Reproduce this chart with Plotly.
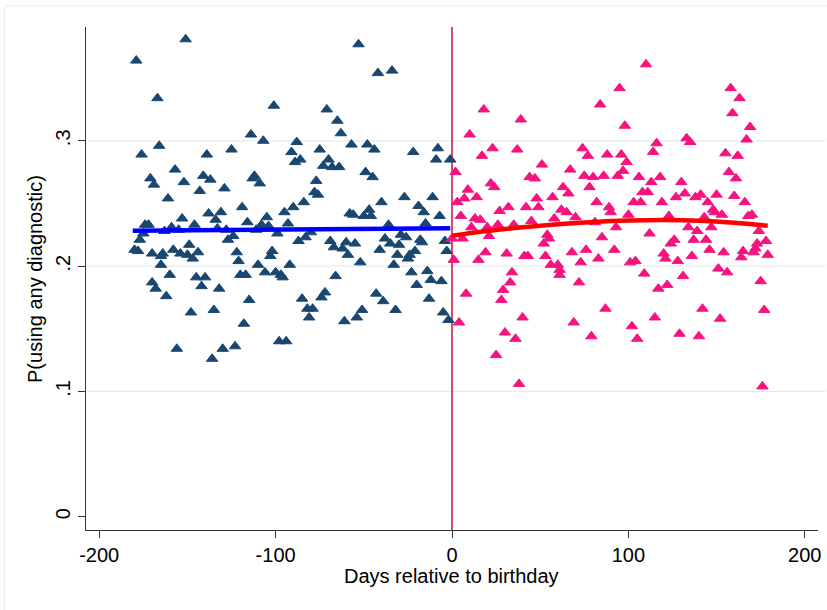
import plotly.graph_objects as go

# ---- data ----
left_days = [-151,-179,-167,-166,-176,-139,-125,-157,-171,-169,-152,-141,-137,-143,-129,-161,-138,-131,-134,-153,
             -174,-172,-159,-163,-155,-146,-175,-177,-133,-128,-127,-124,-180,-178,-170,-164,-158,-154,-149,-150,
             -147,-144,-165,-122,-165,-160,-170,-168,-162,-145,-140,-142,-132,-148,-135,-156,-136,-130,-123,-118,-119,
             -101,-71,-65,-63,-114,-107,-88,-57,-91,-75,-86,-89,-70,-73,-68,-64,-112,-113,-109,-77,
             -78,-76,-84,-90,-95,-105,-116,-93,-58,-56,-111,-108,-104,-99,-80,-87,-83,-121,-120,-117,
             -110,-106,-102,-103,-100,-97,-96,-92,-69,-67,-60,-62,-59,-55,-66,-115,-98,-94,-85,-82,
             -79,-81,-74,-72,-61,-54,-51,
             -53,-42,-34,-48,-44,-22,-8,-9,-1,-49,-45,-40,-27,-11,-19,-16,-7,-50,-47,-46,
             -15,-36,-29,-26,-38,-35,-30,-18,-17,-21,-24,-25,-41,-31,-33,-4,-3,-52,-23,-14,
             -20,-12,-6,-43,-39,-13,-32,-5,-2]
left_prob = [0.381,0.364,0.334,0.296,0.289,0.289,0.293,0.277,0.270,0.265,0.267,0.272,0.269,0.260,0.262,0.254,0.242,0.243,0.237,0.238,
             0.233,0.233,0.231,0.228,0.229,0.233,0.226,0.221,0.230,0.229,0.221,0.224,0.213,0.212,0.210,0.210,0.213,0.210,0.217,0.209,
             0.206,0.211,0.208,0.211,0.201,0.193,0.187,0.182,0.176,0.191,0.191,0.184,0.182,0.163,0.165,0.134,0.126,0.134,0.136,0.154,0.247,
             0.328,0.325,0.316,0.306,0.305,0.300,0.299,0.297,0.291,0.293,0.285,0.283,0.285,0.280,0.279,0.279,0.272,0.270,0.266,0.268,
             0.259,0.257,0.251,0.247,0.243,0.239,0.235,0.234,0.242,0.241,0.229,0.233,0.232,0.226,0.227,0.220,0.223,0.204,0.193,0.193,
             0.201,0.195,0.212,0.208,0.195,0.193,0.191,0.201,0.220,0.215,0.219,0.214,0.209,0.218,0.192,0.173,0.140,0.140,0.174,0.166,
             0.166,0.159,0.175,0.179,0.156,0.159,0.165,
             0.377,0.354,0.356,0.297,0.293,0.291,0.294,0.285,0.285,0.275,0.271,0.251,0.255,0.255,0.248,0.243,0.240,0.240,0.245,0.240,
             0.234,0.233,0.225,0.223,0.222,0.218,0.217,0.221,0.219,0.212,0.209,0.206,0.213,0.209,0.201,0.220,0.212,0.203,0.195,0.196,
             0.185,0.189,0.188,0.178,0.172,0.174,0.165,0.163,0.157]

right_days = [18,39,10,23,37,17,51,2,22,24,44,47,63,9,7,14,3,48,49,57,
              42,32,27,5,13,16,62,11,20,26,35,45,58,6,0,21,54,55,52,19,
              31,41,43,53,1,15,56,60,61,61,34,33,29,28,8,40,4,30,36,25,38,
              110,95,84,98,116,114,74,77,88,96,99,67,97,75,80,86,94,106,113,118,
              130,66,78,108,111,82,103,107,119,127,89,90,65,70,100,123,81,93,112,85,
              126,124,68,76,92,83,73,101,104,120,121,128,72,109,117,122,87,69,79,102,105,115,
              158,163,159,169,167,133,135,155,162,157,161,132,138,141,150,160,166,145,148,149,
              153,143,168,170,134,147,139,174,137,144,146,154,165,164,173,172,171,178,179,136,
              131,151,156,175,142,152,129,140,177,176]
right_prob = [0.325,0.317,0.305,0.294,0.293,0.288,0.281,0.275,0.266,0.263,0.271,0.270,0.263,0.261,0.254,0.255,0.251,0.254,0.247,0.255,
              0.247,0.247,0.244,0.240,0.238,0.237,0.245,0.231,0.231,0.233,0.233,0.236,0.238,0.222,0.222,0.224,0.225,0.222,0.218,0.211,
              0.210,0.208,0.208,0.208,0.205,0.205,0.201,0.201,0.197,0.193,0.195,0.187,0.181,0.173,0.178,0.159,0.155,0.147,0.142,0.129,0.106,
              0.361,0.342,0.329,0.312,0.298,0.291,0.294,0.288,0.289,0.289,0.283,0.277,0.276,0.272,0.271,0.272,0.272,0.271,0.267,0.271,
              0.267,0.258,0.263,0.259,0.259,0.251,0.251,0.251,0.251,0.255,0.247,0.243,0.243,0.239,0.241,0.240,0.235,0.231,0.226,0.223,
              0.221,0.218,0.211,0.213,0.213,0.206,0.203,0.203,0.204,0.210,0.206,0.204,0.187,0.194,0.182,0.185,0.166,0.155,0.144,0.152,0.142,0.159,
              0.342,0.334,0.322,0.311,0.301,0.302,0.299,0.290,0.288,0.275,0.270,0.258,0.255,0.257,0.257,0.256,0.251,0.251,0.245,0.243,
              0.241,0.239,0.240,0.241,0.231,0.231,0.228,0.228,0.221,0.221,0.213,0.211,0.212,0.207,0.218,0.214,0.211,0.220,0.209,0.208,
              0.192,0.198,0.195,0.188,0.166,0.158,0.146,0.144,0.165,0.104]

fit_left_days = [-181, -1]
fit_left_prob = [0.2282, 0.2302]
fit_right_days = [0, 20, 40, 60, 80, 100, 120, 140, 160, 179]
fit_right_prob = [0.2243, 0.2280, 0.2310, 0.2334, 0.2352, 0.2363, 0.2367, 0.2362, 0.2346, 0.2322]

x_ticks = [-200, -100, 0, 100, 200]
x_ticklabels = ["-200", "-100", "0", "100", "200"]
y_ticks = [0, 0.1, 0.2, 0.3]
y_ticklabels = ["0", ".1", ".2", ".3"]
grid_levels = [0.1, 0.2, 0.3]

x_title = "Days relative to birthday"
y_title = "P(using any diagnostic)"

NAVY = "#1a476f"
PINK = "#f7137f"
FONT = "Liberation Sans, Arial, Helvetica, sans-serif"

fig = go.Figure()

fig.add_trace(go.Scatter(x=left_days, y=left_prob, mode="markers",
                         marker=dict(symbol="triangle-up", size=10, color=NAVY,
                                     line=dict(color=NAVY, width=1)),
                         showlegend=False, hoverinfo="skip"))
fig.add_trace(go.Scatter(x=right_days, y=right_prob, mode="markers",
                         marker=dict(symbol="triangle-up", size=10, color=PINK,
                                     line=dict(color=PINK, width=1)),
                         showlegend=False, hoverinfo="skip"))
fig.add_trace(go.Scatter(x=fit_left_days, y=fit_left_prob, mode="lines",
                         line=dict(color="#0000ff", width=4.5),
                         showlegend=False, hoverinfo="skip"))
fig.add_trace(go.Scatter(x=fit_right_days, y=fit_right_prob, mode="lines",
                         line=dict(color="#ff0000", width=4.5, shape="spline"),
                         showlegend=False, hoverinfo="skip"))

shapes = []
for g in grid_levels:
    shapes.append(dict(type="line", xref="paper", yref="y", x0=0, x1=1.011, y0=g, y1=g,
                       line=dict(color="#e6eced", width=1.2), layer="below"))
shapes.append(dict(type="line", xref="x", yref="paper", x0=0, x1=0, y0=0, y1=1,
                   line=dict(color="#c0143c", width=1.5), layer="below"))
# outer graph-region frame
shapes.append(dict(type="line", xref="paper", yref="paper", x0=-0.1116, x1=-0.1116, y0=-0.2, y1=1.0423,
                   line=dict(color="#e3ecef", width=1)))
shapes.append(dict(type="line", xref="paper", yref="paper", x0=-0.1116, x1=1.2, y0=1.0423, y1=1.0423,
                   line=dict(color="#e3ecef", width=1)))

fig.update_layout(
    width=827, height=610,
    margin=dict(l=86, r=9, t=27, b=80, pad=0, autoexpand=False),
    paper_bgcolor="white", plot_bgcolor="white",
    font=dict(family=FONT, size=20, color="black"),
    shapes=shapes,
    xaxis=dict(range=[-207.5, 207.5], tickvals=x_ticks, ticktext=x_ticklabels, automargin=False,
               showgrid=False, zeroline=False, showline=True, linecolor="#333333", linewidth=1.3,
               ticks="outside", ticklen=7, tickwidth=1.2, tickcolor="#333333",
               tickfont=dict(size=20, family=FONT)),
    yaxis=dict(range=[-0.0106, 0.3908], tickvals=y_ticks, ticktext=y_ticklabels, automargin=False,
               showgrid=False, zeroline=False, showline=True, linecolor="#333333", linewidth=1.3,
               ticks="outside", ticklen=7, tickwidth=1.2, tickcolor="#333333",
               tickangle=-90, tickfont=dict(size=20, family=FONT)),
    annotations=[
        dict(text=x_title, xref="paper", yref="paper", x=0.4995, y=-0.0914,
             xanchor="center", yanchor="middle", showarrow=False, font=dict(size=20, family=FONT)),
        dict(text=y_title, xref="paper", yref="paper", x=-0.0697, y=0.499, textangle=-90,
             xanchor="center", yanchor="middle", showarrow=False, font=dict(size=20, family=FONT)),
    ],
)

fig.write_html("out.html", config={"displayModeBar": False},
               post_script="document.body.style.margin='0';document.body.style.overflow='hidden';")
